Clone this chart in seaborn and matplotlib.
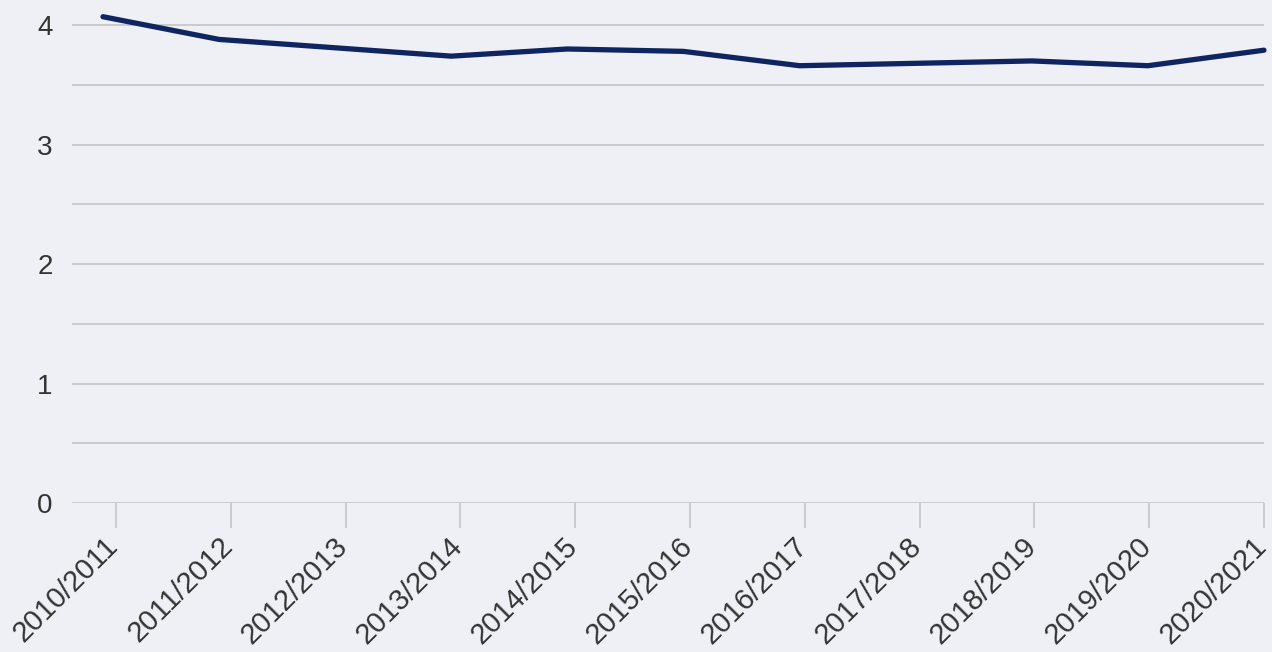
import numpy as np
import pandas as pd
import matplotlib
matplotlib.use("Agg")
import matplotlib.pyplot as plt
import matplotlib.transforms as mtransforms
import seaborn as sns

seasons = ['2010/2011', '2011/2012', '2012/2013', '2013/2014', '2014/2015', '2015/2016',
           '2016/2017', '2017/2018', '2018/2019', '2019/2020', '2020/2021']
values = [4.07, 3.88, 3.81, 3.74, 3.80, 3.78, 3.66, 3.68, 3.70, 3.66, 3.79]

df = pd.DataFrame({'pos': np.arange(len(seasons)), 'value': values})

bg = '#eff0f6'
sns.set_style("white")
plt.rcParams['font.family'] = ['Liberation Sans', 'DejaVu Sans']

fig = plt.figure(figsize=(12.72, 6.52), dpi=100, facecolor=bg)
ax = fig.add_axes([0.0566, 0.2285, 0.9371, 0.7715])
ax.set_facecolor(bg)

sns.lineplot(data=df, x='pos', y='value', color='#0e2561', linewidth=3.8, ax=ax,
             solid_capstyle='round', clip_on=False)

ax.set_xlim(-0.267, 10)
ax.set_ylim(0, 4.21)
ax.set_yticks([0, 1, 2, 3, 4])
ax.set_yticks(np.arange(0.5, 4.1, 1), minor=True)
ax.grid(axis='y', which='both', color='#c0c0c0', linewidth=1.1)
ax.set_axisbelow(True)

# tick marks sit slightly right of the line vertices in the reference
ax.set_xticks(np.linspace(0.112, 10, len(seasons)))
ax.set_xticklabels(seasons, rotation=45, ha='right', rotation_mode='anchor', fontsize=21, color='#333333')
ax.tick_params(axis='x', length=18, width=1.1, color='#c0c0c0', pad=3, bottom=True)
ax.tick_params(axis='y', which='both', length=0, pad=14, labelsize=20, labelcolor='#333333')

# nudge rotated labels so their ends line up with the tick marks
shift = mtransforms.ScaledTranslation(-12 / 100, 0, fig.dpi_scale_trans)
for lbl in ax.get_xticklabels():
    lbl.set_transform(lbl.get_transform() + shift)

for s in ['top', 'right', 'left', 'bottom']:
    ax.spines[s].set_visible(False)
ax.set_xlabel('')
ax.set_ylabel('')

fig.savefig('out.png', dpi=100, facecolor=bg)
